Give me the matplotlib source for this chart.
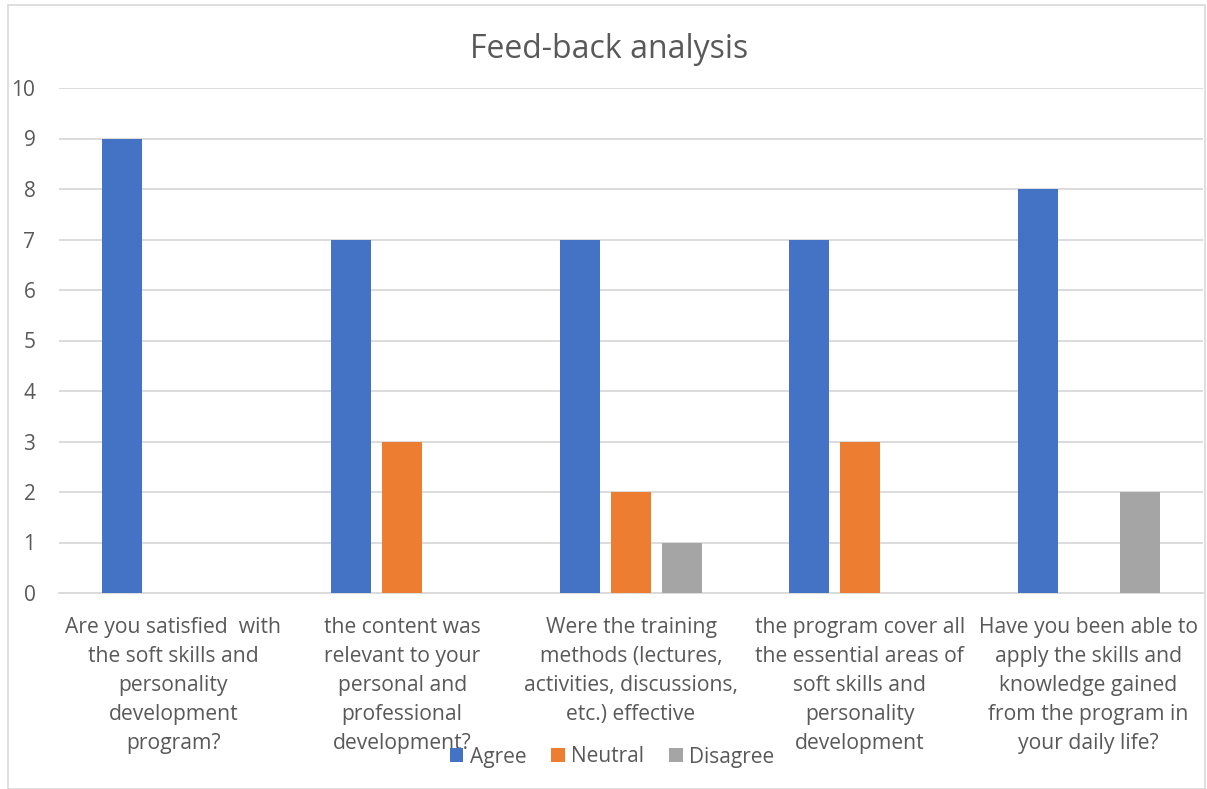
import matplotlib
matplotlib.use("Agg")
import matplotlib.pyplot as plt
import numpy as np
from matplotlib.patches import Rectangle

categories = [
    "Are you satisfied  with\nthe soft skills and\npersonality\ndevelopment\nprogram?",
    "the content was\nrelevant to your\npersonal and\nprofessional\ndevelopment?",
    "Were the training\nmethods (lectures,\nactivities, discussions,\netc.) effective",
    "the program cover all\nthe essential areas of\nsoft skills and\npersonality\ndevelopment",
    "Have you been able to\napply the skills and\nknowledge gained\nfrom the program in\nyour daily life?",
]
agree = [9, 7, 7, 7, 8]
neutral = [0, 3, 2, 3, 0]
disagree = [0, 0, 1, 0, 2]
series_names = ["Agree", "Neutral", "Disagree"]
colors = ["#4472C4", "#ED7D31", "#A5A5A5"]
yticks = list(range(0, 11))

plt.rcParams['font.family'] = ['Open Sans', 'DejaVu Sans']
text_color = "#595959"

fig = plt.figure(figsize=(12.07, 7.89), dpi=100)
fig.patches.append(Rectangle((8/1207, 0), 1 - 8/1207 - 2/1207, 1 - 5/789, transform=fig.transFigure,
                             fill=False, edgecolor="#d9d9d9", linewidth=1.2))
ax = fig.add_axes([59/1207, 1 - 593/789, (1203 - 59)/1207, (593 - 88)/789])

x = np.arange(len(categories))
w = 0.175
off = 0.223
for i, (vals, name, c) in enumerate(zip([agree, neutral, disagree], series_names, colors)):
    ax.bar(x + (i - 1) * off, vals, width=w, color=c, label=name, zorder=3)

ax.set_xlim(-0.5, len(categories) - 0.5)
ax.set_ylim(0, 10)
ax.set_yticks(yticks)
ax.set_yticklabels([str(t) for t in yticks], fontsize=15, color=text_color)
ax.tick_params(axis='y', length=0, pad=17)
ax.tick_params(axis='x', length=0)
ax.set_xticks([])
ax.yaxis.grid(True, color="#d9d9d9", linewidth=1.3, zorder=0)
ax.set_axisbelow(True)
for s in ["top", "right", "left"]:
    ax.spines[s].set_visible(False)
ax.spines["bottom"].set_color("#d9d9d9")
ax.spines["bottom"].set_linewidth(1.3)

for xi, lab in zip(x, categories):
    ax.annotate(lab, xy=(xi, 0), xycoords=('data', 'data'), xytext=(0, -24),
                textcoords='offset pixels', ha='center', va='top', fontsize=15.2,
                color=text_color, linespacing=1.5)

fig.text(609/1207, 1 - 50/789, "Feed-back analysis", ha='center', va='center',
         fontsize=23, color=text_color)

leg = fig.legend(loc='center', bbox_to_anchor=(612/1207, 1 - 757/789), ncol=3, frameon=False,
                 fontsize=15, handlelength=0.65, handleheight=0.65, handletextpad=0.3,
                 columnspacing=1.2, labelcolor=text_color)

fig.savefig("out.png", dpi=100)
